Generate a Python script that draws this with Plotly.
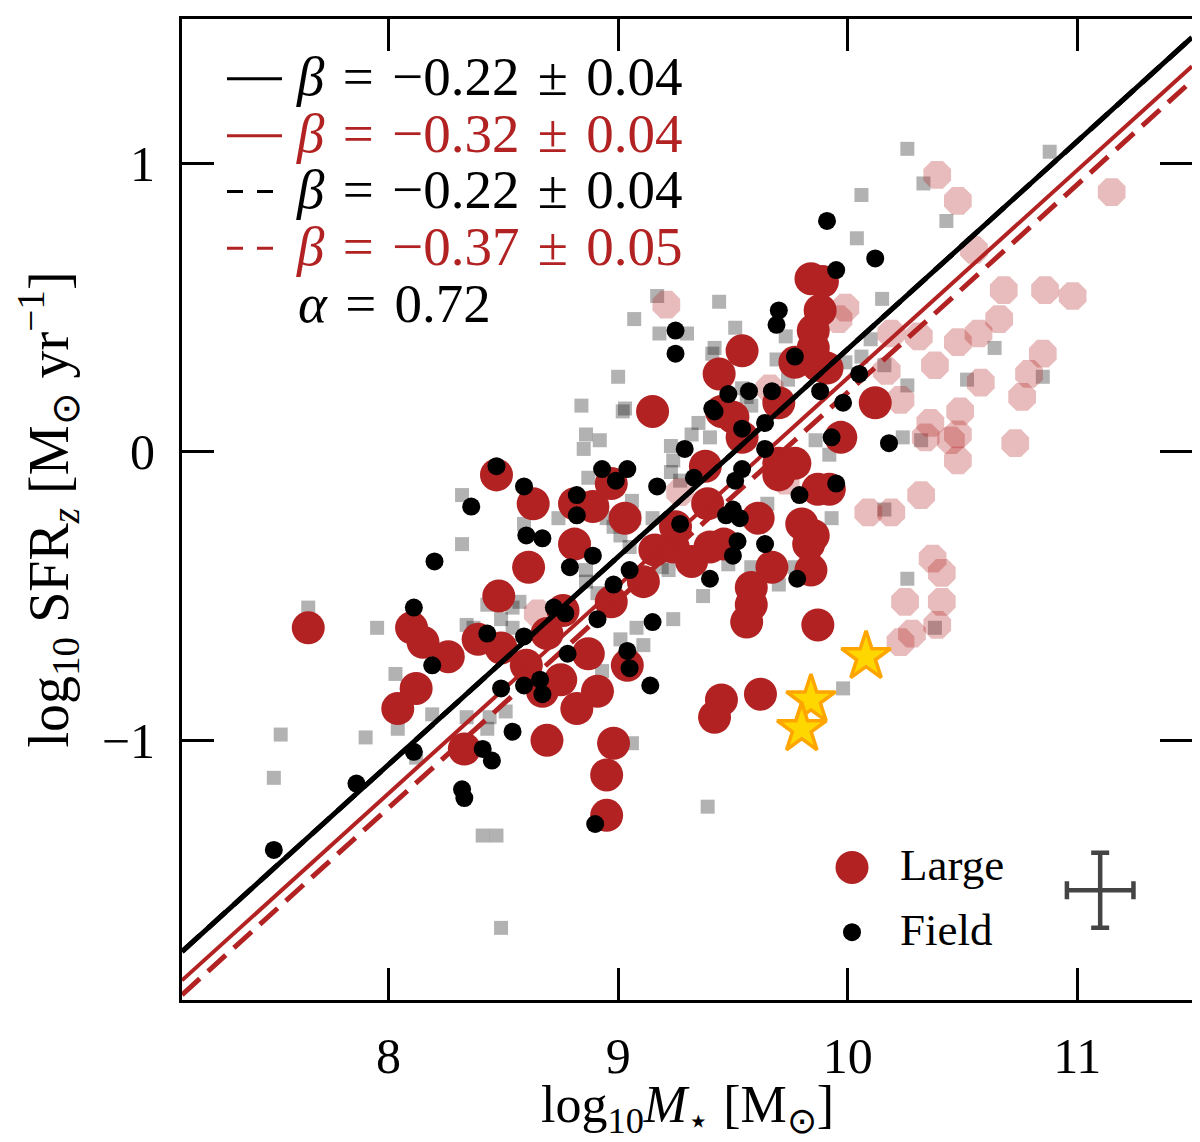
import plotly.graph_objects as go

# --- data ------------------------------------------------------------------
# "Large" sample (red circles)
large_mass = [7.65, 8.10, 8.15, 8.26, 8.12, 8.04, 8.33, 8.47, 8.63, 8.81, 8.89, 8.97,
              9.03, 8.81, 8.61, 8.48, 8.39, 8.49, 8.60, 8.69, 8.76, 8.97, 9.11, 9.16,
              9.32, 9.15, 8.75, 8.67, 8.82, 8.91, 8.69, 8.98, 8.95, 8.95, 8.87, 9.04,
              9.54, 9.44, 9.84, 9.89, 9.88, 9.85, 9.85, 9.87, 9.77, 9.91, 9.70, 9.97,
              10.12, 9.45, 9.50, 9.54, 9.38, 9.70, 9.77, 9.70, 9.87, 9.92, 9.39, 9.61,
              9.80, 9.85, 9.83, 9.40, 9.46, 9.67, 9.84, 9.58, 9.58, 9.56, 9.87, 9.45,
              9.42, 9.62, 9.24, 9.25]
large_sfr = [-0.61, -0.61, -0.66, -0.71, -0.82, -0.89, -1.03, -0.08, -0.18, -0.18, -0.19, -0.11,
             -0.23, -0.32, -0.40, -0.50, -0.65, -0.68, -0.74, -0.63, -0.55, -0.52, -0.45, -0.34,
             -0.38, 0.14, -0.79, -0.83, -0.89, -0.83, -1.00, -1.01, -1.12, -1.26, -0.70, -0.74,
             0.35, 0.27, 0.60, 0.59, 0.49, 0.42, 0.36, 0.30, 0.31, 0.29, 0.17, 0.05,
             0.17, 0.14, 0.12, 0.05, -0.05, -0.04, -0.04, -0.08, -0.13, -0.13, -0.18, -0.23,
             -0.25, -0.29, -0.32, -0.33, -0.32, -0.40, -0.41, -0.47, -0.53, -0.59, -0.60, -0.86,
             -0.92, -0.84, -0.33, -0.26]

# "Field" sample (black dots)
field_mass = [8.47, 8.59, 8.36, 8.20, 8.11, 8.19, 8.60, 8.67, 8.82, 8.82, 8.93, 9.04,
              8.99, 9.17, 9.29, 9.33, 8.89, 8.79, 9.05, 8.98, 9.27, 8.72, 8.77, 8.91,
              9.15, 8.43, 8.59, 8.78, 9.04, 9.05, 9.14, 8.49, 8.59, 8.66, 8.67, 8.54,
              8.11, 8.41, 8.45, 7.86, 8.32, 8.33, 7.50, 8.90, 9.48, 9.57, 9.67, 9.88,
              9.98, 9.42, 9.54, 9.64, 9.64, 9.93, 10.18, 9.54, 9.51, 9.79, 9.95, 9.47,
              9.50, 9.53, 9.52, 9.50, 9.64, 9.40, 9.78, 9.91, 10.12, 9.95, 9.70, 9.69,
              9.25, 9.25, 9.77, 10.05, 9.41]
field_sfr = [-0.05, -0.12, -0.19, -0.38, -0.54, -0.74, -0.29, -0.30, -0.15, -0.22, -0.06, -0.06,
             -0.10, -0.12, 0.01, -0.09, -0.36, -0.40, -0.41, -0.46, -0.25, -0.54, -0.56, -0.58,
             -0.59, -0.63, -0.64, -0.70, -0.69, -0.75, -0.81, -0.82, -0.81, -0.79, -0.84, -0.97,
             -1.04, -1.03, -1.07, -1.15, -1.17, -1.20, -1.38, -1.29, 0.20, 0.21, 0.21, 0.21,
             0.17, 0.14, 0.08, 0.10, 0.01, 0.05, 0.03, -0.06, -0.10, -0.15, -0.11, -0.22,
             -0.20, -0.23, -0.31, -0.36, -0.32, -0.44, -0.44, 0.80, 0.67, 0.63, 0.49, 0.44,
             0.42, 0.34, 0.33, 0.27, 0.15]

# comparison sample (grey squares)
other_mass = [10.06, 10.04, 9.44, 9.07, 9.17, 9.30, 9.18, 9.51, 9.42, 9.41, 9.73, 9.69,
              9.74, 9.00, 8.84, 9.03, 9.54, 9.99, 10.10, 9.56, 9.58, 8.86, 8.92, 8.85,
              10.26, 10.88, 10.33, 10.43, 10.15, 10.06, 10.16, 10.26, 10.64, 10.52, 10.85, 10.24,
              10.32, 9.92, 9.35, 9.32, 9.40, 9.23, 9.24, 9.23, 9.27, 9.15, 9.19, 9.06,
              9.07, 9.01, 8.98, 9.65, 9.48, 9.58, 9.70, 9.77, 9.93, 9.37, 9.24, 9.08,
              9.01, 9.11, 8.93, 10.16, 10.26, 10.38, 9.98, 9.06, 9.86, 7.65, 7.95, 8.32,
              8.32, 9.02, 8.87, 8.74, 8.59, 8.95, 8.86, 8.86, 8.91, 9.05, 9.22, 8.57,
              8.54, 8.43, 8.34, 8.37, 8.49, 8.54, 8.03, 8.19, 8.04, 8.34, 8.44, 8.51,
              8.43, 7.53, 7.90, 7.50, 8.82, 8.85, 8.12, 8.41, 8.47, 8.49, 9.39]
other_sfr = [0.89, 0.74, 0.52, 0.46, 0.54, 0.41, 0.41, 0.43, 0.36, 0.34, 0.40, 0.32,
             0.25, 0.26, 0.16, 0.15, 0.22, 0.31, 0.39, 0.19, 0.16, 0.06, 0.04, 0.01,
             1.05, 1.04, 0.93, 0.80, 0.53, 0.33, 0.30, 0.23, 0.36, 0.25, 0.26, 0.05,
             0.04, -0.01, 0.10, 0.06, 0.05, 0.02, -0.03, -0.07, -0.10, -0.23, -0.40, -0.17,
             -0.23, -0.29, -0.26, -0.18, -0.39, -0.40, -0.46, -0.40, -0.23, -0.50, -0.58, -0.61,
             -0.65, -0.67, -0.76, -0.20, -0.44, -0.61, -0.82, -1.01, 0.04, -0.54, -0.61, -0.15,
             -0.32, 0.14, -0.09, -0.23, -0.25, -0.23, -0.41, -0.45, -0.49, -0.33, -0.41, -0.52,
             -0.54, -0.53, -0.60, -0.61, -0.58, -0.61, -0.77, -0.91, -0.96, -0.92, -0.92, -0.90,
             -0.96, -0.98, -0.99, -1.13, -0.30, -0.33, -1.06, -1.33, -1.33, -1.65, -1.23]

# comparison sample, second set (pale red squares)
pale_mass = [10.39, 10.48, 11.15, 10.55, 9.99, 9.96, 10.68, 10.86, 10.98, 10.66, 10.57, 10.48,
             10.31, 10.19, 10.38, 10.17, 10.23, 10.58, 10.85, 10.79, 10.76, 10.49, 10.36, 10.34,
             10.45, 10.48, 10.48, 10.73, 10.32, 10.19, 10.09, 10.37, 10.41, 10.25, 10.41, 10.39,
             10.28, 10.23, 9.73, 8.65, 9.27, 9.21, 9.66]
pale_sfr = [0.96, 0.87, 0.90, 0.70, 0.50, 0.46, 0.56, 0.56, 0.54, 0.46, 0.41, 0.38,
            0.40, 0.41, 0.30, 0.28, 0.18, 0.24, 0.34, 0.27, 0.19, 0.14, 0.10, 0.05,
            0.04, 0.06, -0.03, 0.03, -0.15, -0.21, -0.21, -0.37, -0.42, -0.52, -0.52, -0.60,
            -0.63, -0.66, -0.10, -0.56, -0.14, 0.51, 0.22]

# highlighted objects (stars)
star_mass = [10.08, 9.84, 9.80]
star_sfr = [-0.71, -0.86, -0.96]

# fitted relations: y = alpha * (x - pivot) + beta
alpha = 0.72
pivot = 9.2
fits = [
    ("black", "solid", -0.22, "0.04"),
    ("#B22222", "solid", -0.32, "0.04"),
    ("black", "dash", -0.22, "0.04"),
    ("#B22222", "dash", -0.37, "0.05"),
]

# typical uncertainty
err_pos = (11.1, -1.52)
err_mass = 0.145
err_sfr = 0.13

x_range = [7.1, 11.5]
y_range = [-1.9, 1.5]

RED = "#B22222"
FONT = "Liberation Serif"
SP = "\u2004"  # slightly wider space, closer to the math spacing of the original

fig = go.Figure()

fig.add_trace(go.Scatter(
    x=other_mass, y=other_sfr, mode="markers",
    marker=dict(symbol="square", size=14, color="rgba(0,0,0,0.3)", line=dict(width=0)),
    showlegend=False,
))
fig.add_trace(go.Scatter(
    x=pale_mass, y=pale_sfr, mode="markers",
    marker=dict(symbol="octagon", size=30, color="rgba(178,34,34,0.3)", line=dict(width=0)),
    showlegend=False,
))
fig.add_trace(go.Scatter(
    x=large_mass, y=large_sfr, mode="markers",
    marker=dict(symbol="circle", size=33, color=RED, line=dict(width=0)),
    showlegend=False,
))

# fit lines (dashed ones first so the solid black sits on top)
for color, dash, beta, _ in sorted(fits, key=lambda f: f[1] == "solid"):
    fig.add_trace(go.Scatter(
        x=x_range,
        y=[alpha * (v - pivot) + beta for v in x_range],
        mode="lines",
        line=dict(color=color, width=4 if (color != "black" and dash == "solid") else 5,
                  dash="24px,11px" if dash == "dash" else "solid"),
        showlegend=False,
    ))

fig.add_trace(go.Scatter(
    x=field_mass, y=field_sfr, mode="markers",
    marker=dict(symbol="circle", size=18, color="black", line=dict(width=0)),
    showlegend=False,
))
fig.add_trace(go.Scatter(
    x=star_mass, y=star_sfr, mode="markers",
    marker=dict(symbol="star", size=37, color="#FFD700", line=dict(color="#FFA500", width=3.5)),
    showlegend=False,
))
fig.add_trace(go.Scatter(
    x=[err_pos[0]], y=[err_pos[1]], mode="markers",
    marker=dict(size=1, color="#444444"),
    error_x=dict(type="data", array=[err_mass], thickness=4.5, width=9, color="#444444"),
    error_y=dict(type="data", array=[err_sfr], thickness=4.5, width=9, color="#444444"),
    showlegend=False,
))

# --- helpers: page pixel -> paper fraction (plot area 182..1192 x 16..1000) ---
def px_x(p):
    return (p - 182) / 1010


def px_y(p):
    return (1000 - p) / 984


# --- text legend top-left ----------------------------------------------------
rows = [74, 131, 187, 244]
shapes = []
annotations = []
for (color, dash, beta, err), row in zip(fits, rows):
    shapes.append(dict(
        type="line", xref="paper", yref="paper",
        x0=px_x(227), x1=px_x(282 if dash == "solid" else 276),
        y0=px_y(row + 2), y1=px_y(row + 2),
        line=dict(color=color, width=3, dash="solid" if dash == "solid" else "16px,14px"),
    ))
    annotations.append(dict(
        xref="paper", yref="paper", x=px_x(294), y=px_y(row),
        xanchor="left", yanchor="middle", showarrow=False,
        text="<i>β</i>" + SP + "=" + SP + "−%.2f" % abs(beta) + SP + "±" + SP + err,
        font=dict(family=FONT, size=55, color=color),
    ))
annotations.append(dict(
    xref="paper", yref="paper", x=px_x(296), y=px_y(301),
    xanchor="left", yanchor="middle", showarrow=False,
    text="<i>α</i>" + SP + "=" + SP + "%.2f" % alpha,
    font=dict(family=FONT, size=55, color="black"),
))

# --- marker legend bottom-right ----------------------------------------------
for label, color, diam, row in [("Large", RED, 33, 867), ("Field", "black", 18, 932)]:
    shapes.append(dict(
        type="circle", xref="paper", yref="paper",
        xsizemode="pixel", ysizemode="pixel",
        xanchor=px_x(852), yanchor=px_y(row),
        x0=-diam / 2, x1=diam / 2, y0=-diam / 2, y1=diam / 2,
        fillcolor=color, line=dict(width=0),
    ))
    annotations.append(dict(
        xref="paper", yref="paper", x=px_x(898), y=px_y(row - 2),
        xanchor="left", yanchor="middle", showarrow=False,
        text=label, font=dict(family=FONT, size=45, color="black"),
    ))

# x axis title as an annotation so its height can be set exactly
annotations.append(dict(
    xref="paper", yref="paper", x=0.5, y=px_y(1109),
    xanchor="center", yanchor="middle", showarrow=False,
    text="log<sub>10</sub><i>M</i><sub>⋆</sub> [M<sub>⊙</sub>]",
    font=dict(family=FONT, size=52, color="black"),
))

axis_style = dict(
    showline=True, linewidth=3, linecolor="black", mirror="allticks",
    ticks="inside", ticklen=32, tickwidth=3, tickcolor="black",
    showgrid=False, zeroline=False,
    tickfont=dict(family=FONT, size=50, color="black"),
)

# the page body adds an 8px offset, margins below compensate for it
fig.update_layout(
    width=1200, height=1142,
    margin=dict(l=174, r=16, t=8, b=150),
    paper_bgcolor="white", plot_bgcolor="white",
    xaxis=dict(
        range=x_range, tickvals=[8, 9, 10, 11],
        ticklabelstandoff=10,
        **axis_style,
    ),
    yaxis=dict(
        range=y_range, tickvals=[-1, 0, 1],
        title=dict(text="log<sub>10</sub> SFR<sub><i>z</i></sub> [M<sub>⊙</sub> yr<sup>−1</sup>]",
                   font=dict(family=FONT, size=56, color="black"), standoff=16),
        ticklabelstandoff=14,
        **axis_style,
    ),
    shapes=shapes,
    annotations=annotations,
    showlegend=False,
)

fig.write_html("out.html")
